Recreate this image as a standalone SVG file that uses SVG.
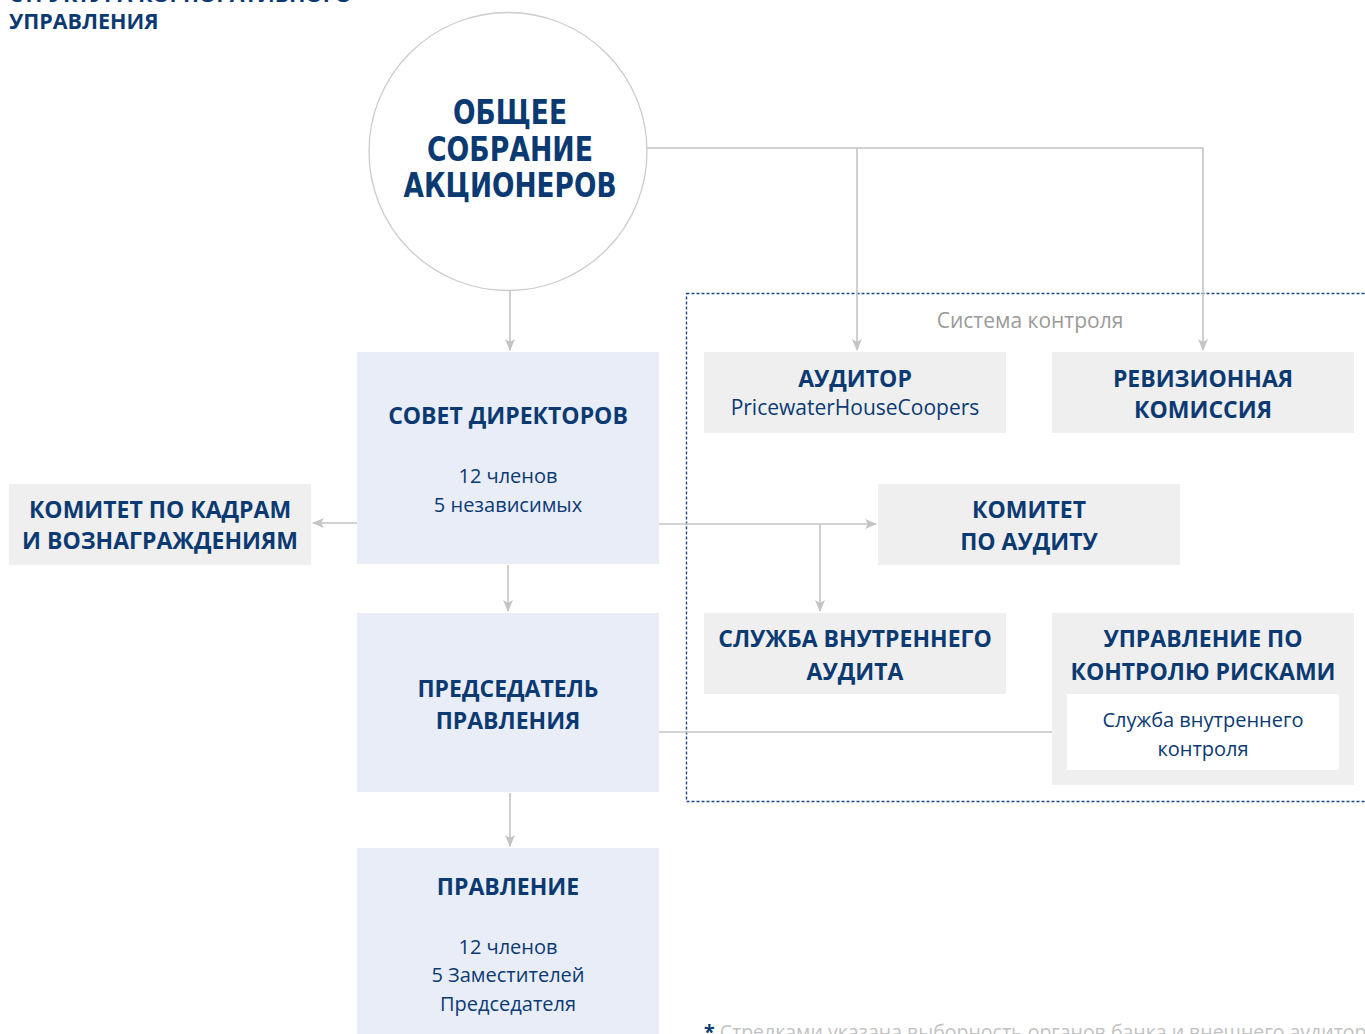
<svg xmlns="http://www.w3.org/2000/svg" width="1365" height="1034" viewBox="0 0 1365 1034">
<defs>
<marker id="arr" viewBox="0 0 12 10" refX="11" refY="5" markerWidth="12" markerHeight="10" markerUnits="userSpaceOnUse" orient="auto">
<path d="M0,0 L12,5 L0,10 L3,5 z" fill="#c4c4c4"/>
</marker>
<style>
.t{font-family:"Open Sans","Noto Sans",sans-serif;fill:#0b3a73;text-anchor:middle}
.b{font-weight:bold;font-size:23px}
.r{font-size:20px}
.c{font-family:"DejaVu Sans Condensed","DejaVu Sans",sans-serif;font-weight:bold;font-size:33px;fill:#0b3a73;text-anchor:middle}
.grey{fill:#efefef}
.blue{fill:#e8edf7}
.ln{fill:none;stroke:#c4c4c4;stroke-width:1.6}
.hd{font-family:"Open Sans",sans-serif;font-weight:bold;font-size:21.5px;fill:#0b3a73}
</style>
</defs>
<rect width="1365" height="1034" fill="#ffffff"/>
<g id="title">
<text class="hd" x="9" y="2">СТРУКТУРА КОРПОРАТИВНОГО</text>
<text class="hd" x="9" y="29">УПРАВЛЕНИЯ</text>
</g>
<g id="control-system">
<rect x="686.5" y="293.5" width="690" height="508" fill="none" stroke="#1d4a85" stroke-width="1.4" stroke-dasharray="3,2"/>
<text x="1030" y="328" font-family="Open Sans,sans-serif" font-size="21" fill="#9a9a9a" text-anchor="middle">Система контроля</text>
</g>
<g id="connectors">
<line class="ln" x1="510" y1="291" x2="510" y2="350" marker-end="url(#arr)"/>
<polyline class="ln" points="647,148 1203,148 1203,350" marker-end="url(#arr)"/>
<line class="ln" x1="857" y1="148" x2="857" y2="350" marker-end="url(#arr)"/>
<line class="ln" x1="357" y1="523" x2="313" y2="523" marker-end="url(#arr)"/>
<line class="ln" x1="659" y1="524" x2="876" y2="524" marker-end="url(#arr)"/>
<line class="ln" x1="820" y1="524" x2="820" y2="611" marker-end="url(#arr)"/>
<line class="ln" x1="508" y1="565" x2="508" y2="611" marker-end="url(#arr)"/>
<line class="ln" x1="659" y1="732" x2="1052" y2="732"/>
<line class="ln" x1="510" y1="793" x2="510" y2="846" marker-end="url(#arr)"/>
</g>
<g id="gsm">
<circle cx="508" cy="151.5" r="139" fill="#ffffff" stroke="#cccccc" stroke-width="1.3"/>
<text class="c" x="510" y="124" textLength="114" lengthAdjust="spacingAndGlyphs">ОБЩЕЕ</text>
<text class="c" x="510" y="161" textLength="166" lengthAdjust="spacingAndGlyphs">СОБРАНИЕ</text>
<text class="c" x="510" y="197" textLength="213" lengthAdjust="spacingAndGlyphs">АКЦИОНЕРОВ</text>
</g>
<g id="auditor">
<rect class="grey" x="704" y="352" width="302" height="81"/>
<text class="t b" x="855" y="387">АУДИТОР</text>
<text class="t" x="855" y="415" font-size="21">PricewaterHouseCoopers</text>
</g>
<g id="revision">
<rect class="grey" x="1052" y="352" width="302" height="81"/>
<text class="t b" x="1203" y="387">РЕВИЗИОННАЯ</text>
<text class="t b" x="1203" y="418">КОМИССИЯ</text>
</g>
<g id="board">
<rect class="blue" x="357" y="352" width="302" height="212"/>
<text class="t b" x="508" y="424">СОВЕТ ДИРЕКТОРОВ</text>
<text class="t r" x="508" y="483">12 членов</text>
<text class="t r" x="508" y="512">5 независимых</text>
</g>
<g id="hr-committee">
<rect class="grey" x="9" y="484" width="302" height="81"/>
<text class="t b" x="160" y="518">КОМИТЕТ ПО КАДРАМ</text>
<text class="t b" x="160" y="549">И ВОЗНАГРАЖДЕНИЯМ</text>
</g>
<g id="audit-committee">
<rect class="grey" x="878" y="484" width="302" height="81"/>
<text class="t b" x="1029" y="518">КОМИТЕТ</text>
<text class="t b" x="1029" y="550">ПО АУДИТУ</text>
</g>
<g id="internal-audit">
<rect class="grey" x="704" y="613" width="302" height="81"/>
<text class="t b" x="855" y="647">СЛУЖБА ВНУТРЕННЕГО</text>
<text class="t b" x="855" y="680">АУДИТА</text>
</g>
<g id="risk">
<rect class="grey" x="1052" y="613" width="302" height="172"/>
<text class="t b" x="1203" y="647">УПРАВЛЕНИЕ ПО</text>
<text class="t b" x="1203" y="680">КОНТРОЛЮ РИСКАМИ</text>
<rect x="1067" y="694" width="272" height="76" fill="#ffffff"/>
<text class="t r" x="1203" y="727">Служба внутреннего</text>
<text class="t r" x="1203" y="756">контроля</text>
</g>
<g id="chairman">
<rect class="blue" x="357" y="613" width="302" height="179"/>
<text class="t b" x="508" y="697">ПРЕДСЕДАТЕЛЬ</text>
<text class="t b" x="508" y="729">ПРАВЛЕНИЯ</text>
</g>
<g id="management">
<rect class="blue" x="357" y="848" width="302" height="200"/>
<text class="t b" x="508" y="895">ПРАВЛЕНИЕ</text>
<text class="t r" x="508" y="954">12 членов</text>
<text class="t r" x="508" y="982">5 Заместителей</text>
<text class="t r" x="508" y="1011">Председателя</text>
</g>
<g id="footnote">
<text x="704" y="1039" font-family="Open Sans,sans-serif" font-size="19.5" fill="#c2c2c2"><tspan fill="#0b3a73" font-weight="bold">*</tspan> Стрелками указана выборность органов банка и внешнего аудитора</text>
</g>
</svg>
